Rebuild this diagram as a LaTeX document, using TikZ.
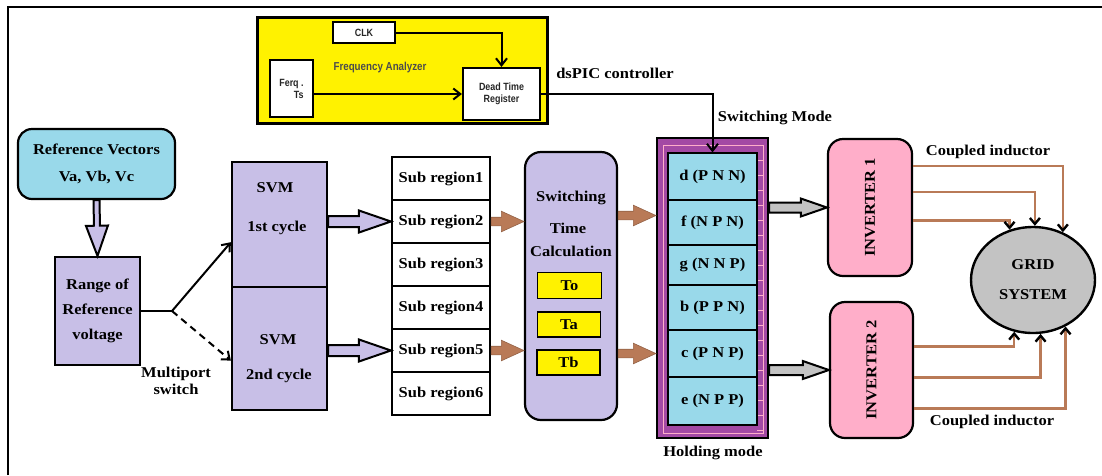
\documentclass[tikz,border=0pt]{standalone}
\usepackage{fontspec}
\setmainfont{Liberation Serif}[FakeStretch=1.1]
\newfontfamily\panelsans{Liberation Sans}[FakeStretch=0.85]
\usetikzlibrary{positioning,calc,shapes.arrows,shapes.geometric,arrows.meta}

\definecolor{paintcyan}{HTML}{99D9EA}
\definecolor{paintlav}{HTML}{C8BFE7}
\definecolor{paintpink}{HTML}{FFAEC9}
\definecolor{paintgray}{HTML}{C3C3C3}
\definecolor{paintbrown}{HTML}{B97A57}
\definecolor{paintyellow}{HTML}{FFF200}
\definecolor{paintplum}{HTML}{A349A4}

% block arrow: style, name, from, to
\newcommand{\fatarrow}[4]{%
  \path let \p1=(#3), \p2=(#4),
    \n1={veclen(\x2-\x1,\y2-\y1)}, \n2={atan2(\y2-\y1,\x2-\x1)}
    in node[#1, minimum height=\n1, rotate=\n2, anchor=tail] (#2) at (\p1) {};}

\begin{document}
\begin{tikzpicture}[x=1pt, y=-1pt, font=\fontsize{15}{17}\selectfont\bfseries,
  box/.style={draw, line width=2.2pt, inner sep=0pt},
  sz/.style 2 args={minimum width=#1, minimum height=#2},
  panel/.style={font=\panelsans\bfseries\fontsize{10.5}{12}\selectfont, text=black!85},
  sig/.style={line width=2pt, -{Straight Barb[length=7pt,width=11pt]}},
  couple/.style={paintbrown, line width=2.4pt, -{Straight Barb[black,length=6pt,width=10pt]}},
  blockarrow/.style={single arrow, inner sep=0pt, outer sep=0pt, minimum width=0pt,
    single arrow head indent=0pt},
  vpurple/.style={blockarrow, draw, line width=2pt, fill=paintlav, inner ysep=2pt,
    single arrow head extend=8pt, single arrow tip angle=40},
  hpurple/.style={blockarrow, draw, line width=2pt, fill=paintlav, inner ysep=4.5pt,
    single arrow head extend=5.5pt, single arrow tip angle=38},
  brownarr/.style={blockarrow, draw=paintbrown!80!black, line width=0.6pt, fill=paintbrown,
    inner ysep=4pt, single arrow head extend=6pt, single arrow tip angle=49},
  grayarr/.style={blockarrow, draw, line width=2pt, fill=paintgray, inner ysep=4pt,
    single arrow head extend=4pt, single arrow tip angle=38},
  cell/.style={draw, line width=1.2pt, fill=paintcyan, inner sep=0pt}]

  \useasboundingbox (0,0) rectangle (1102,475);
  \fill[white] (0,0) rectangle (1102,475);
  \draw[line width=2.8pt] (8,475) -- (8,7) -- (1102,7);

  % dsPIC panel
  \node[box, line width=3pt, fill=paintyellow, sz={290}{106}] (dspic) at (402,70) {};
  \node[box, fill=white, sz={62}{21}, panel] (clk) at (364,32.5) {CLK};
  \node[box, fill=white, sz={43}{57}, align=right, panel] (ferq) at (291.5,88.5) {Ferq .\\Ts};
  \node[box, fill=white, sz={77}{52}, align=center, panel] (dead) at (501.5,94) {Dead Time\\Register};
  \node[panel, font=\panelsans\bfseries\fontsize{11.5}{13}\selectfont, text=black!70] (fa) at (380,68) {Frequency Analyzer};
  \draw[sig] (clk.east) -| (dead.north);
  \draw[sig] (ferq.east |- dead.west) -- (dead.west);
  \node (dsl) at (615,73) {dsPIC controller};
  \node (swm) at (775,118) {Switching Mode};

  % reference and range
  \node[box, rounded corners=14pt, fill=paintcyan, sz={157}{70}, align=center] (refv) at (96.5,164) {Reference Vectors\\[10pt]Va, Vb, Vc};
  \node[box, fill=paintlav, sz={85}{108}, align=center] (range) at (97.5,311) {Range of\\[8pt]Reference\\[8pt]voltage};
  \fatarrow{vpurple}{va}{refv.south}{range.north}

  % SVM cycles
  \node[box, fill=paintlav, sz={95}{125}] (svm1) at (279.5,224.5) {};
  \node[box, fill=paintlav, sz={95}{123}] (svm2) at (279.5,348.5) {};
  \node (svmA) at (275,188) {SVM};
  \node (cyc1) at (277,228) {1st cycle};
  \node (svmB) at (278,340) {SVM};
  \node (cyc2) at (279,376) {2nd cycle};

  % multiport switch
  \coordinate (sw) at (172,311);
  \draw[line width=2pt] (range.east) -- (sw);
  \draw[sig] (sw) -- (svm1.200);
  \draw[sig, dash pattern=on 7pt off 5pt] (sw) -- (svm2.194);
  \node[align=center] (mps) at (176,381) {Multiport\\switch};

  % sub regions
  \foreach \i in {1,...,6}
    \node[box, fill=white, sz={98}{43}] (sub\i) at (441,{135.5+43*\i}) {Sub region\i};
  \fatarrow{hpurple}{pa1}{svm1.east |- sub2.west}{sub2.west}
  \fatarrow{hpurple}{pa2}{svm2.east |- sub5.west}{sub5.west}

  % switching time calculation
  \node[box, rounded corners=16pt, fill=paintlav, sz={92}{268}] (calc) at (571,286) {};
  \node (stc1) at (571,198) {Switching};
  \node (stc2) at (568,228) {Time};
  \node (stc3) at (571,251) {Calculation};
  \node[box, line width=1.2pt, fill=paintyellow, sz={64}{26}] (to) at (569.5,285.5) {To};
  \node[box, line width=1.2pt, fill=paintyellow, sz={63}{25}] (ta) at (569,324.5) {Ta};
  \node[box, line width=1.2pt, fill=paintyellow, sz={63}{25}] (tb) at (568.5,362.5) {Tb};
  \fatarrow{brownarr}{ba1}{sub2.east}{sub2.east -| calc.west}
  \fatarrow{brownarr}{ba2}{sub5.east}{sub5.east -| calc.west}

  % holding mode
  \node[box, fill=paintplum, sz={111}{300}] (hold) at (712.5,288) {};
  \draw[paintpink, line width=1pt] (663,145) rectangle (763,433);
  \foreach \y in {160,175,...,430}
    \draw[paintpink, line width=1pt] (757,\y) -- (763,\y);
  \foreach \n/\y/\h/\t in {cd/176.5/47/d (P N N), cf/222.5/45/f (N P N), cg/265/40/g (N N P),
      cb/307.5/45/b (P P N), cc/353.5/47/c (P N P), ce/401/48/e (N P P)}
    \node[cell, sz={89}{\h}] (\n) at (712.5,\y) {\t};
  \node (hm) at (713,453) {Holding mode};
  \fatarrow{brownarr}{ba3}{$(calc.east |- sub2.east)+(0,-6)$}{$(hold.west |- sub2.east)+(0,-6)$}
  \fatarrow{brownarr}{ba4}{$(calc.east |- sub5.east)+(0,3)$}{$(hold.west |- sub5.east)+(0,3)$}
  \draw[sig] (dead.east) -| (cd.north);

  % inverters and grid
  \node[box, rounded corners=15pt, fill=paintpink, sz={84}{137}] (inv1) at (870,207.5) {};
  \node[box, rounded corners=15pt, fill=paintpink, sz={83}{136}] (inv2) at (871.5,370) {};
  \node[rotate=90] (inv1t) at (inv1) {INVERTER 1};
  \node[rotate=90] (inv2t) at (inv2) {INVERTER 2};
  \fatarrow{grayarr}{ga1}{hold.east |- inv1.west}{inv1.west}
  \fatarrow{grayarr}{ga2}{hold.east |- inv2.west}{inv2.west}
  \node[draw, line width=2.4pt, ellipse, fill=paintgray, inner sep=0pt, sz={124}{106}, align=center] (grid) at (1033,280) {GRID\\[13pt]SYSTEM};

  % coupled inductor lines
  \draw[couple] (inv1.44) -| (grid.58);
  \draw[couple] (inv1.20) -| (grid.88);
  \draw[couple] (inv1.-17) -| (grid.115);
  \draw[couple] (inv2.29) -| (grid.-110);
  \draw[couple] (inv2.-10) -| (grid.-82);
  \draw[couple] (inv2.-42) -| (grid.-55);
  \node (cpl1) at (988,152) {Coupled inductor};
  \node (cpl2) at (992,422) {Coupled inductor};
\end{tikzpicture}
\end{document}
